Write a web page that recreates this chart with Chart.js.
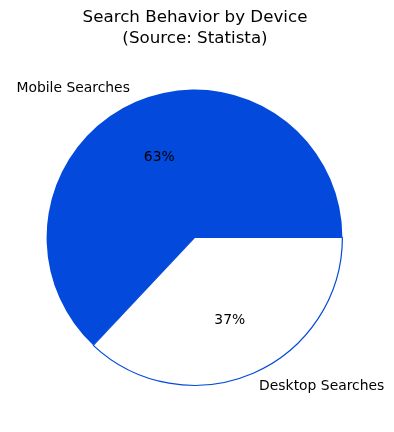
<!DOCTYPE html>
<html>
<head>
<meta charset="utf-8">
<script src="https://cdn.jsdelivr.net/npm/chart.js@4"></script>
<style>
  html, body { margin: 0; padding: 0; background: #ffffff; }
  #wrap { width: 394px; height: 432px; }
</style>
</head>
<body>
<div id="wrap"><canvas id="pieChart" width="394" height="432"></canvas></div>
<script>
// chart data
const labels = ["Mobile Searches", "Desktop Searches"];
const shares = [63, 37];
const titleLines = ["Search Behavior by Device", "(Source: Statista)"];

const blue = "#0349db";
const font = "'DejaVu Sans', sans-serif";

// matplotlib-style labels: name outside, percent inside
const pieLabels = {
  id: "pieLabels",
  afterDraw(chart) {
    const ctx = chart.ctx;
    ctx.save();
    ctx.fillStyle = "#000000";
    ctx.textAlign = "center";
    ctx.textBaseline = "middle";
    ctx.font = "16.7px " + font;
    ctx.fillText(titleLines[0], 195, 18);
    ctx.fillText(titleLines[1], 195, 39);

    const total = shares.reduce((a, b) => a + b, 0);
    chart.getDatasetMeta(0).data.forEach((arc, i) => {
      const mid = (arc.startAngle + arc.endAngle) / 2;
      const r = arc.outerRadius;
      const cos = Math.cos(mid), sin = Math.sin(mid);
      ctx.font = "13.9px " + font;
      ctx.textAlign = cos < 0 ? "right" : "left";
      ctx.fillText(labels[i], arc.x + cos * r * 1.1, arc.y + sin * r * 1.1);
      ctx.textAlign = "center";
      const pct = Math.round((shares[i] / total) * 100) + "%";
      ctx.fillText(pct, arc.x + cos * r * 0.6, arc.y + sin * r * 0.6 + 1);
    });
    ctx.restore();
  },
};

new Chart(document.getElementById("pieChart"), {
  type: "pie",
  data: {
    labels: labels,
    datasets: [
      {
        data: shares,
        backgroundColor: [blue, "#ffffff"],
        borderColor: [blue, blue],
        borderWidth: [0, 1.2],
      },
    ],
  },
  options: {
    responsive: false,
    animation: false,
    rotation: 223.2,
    layout: { padding: { left: 46, right: 51, top: 89, bottom: 46 } },
    plugins: {
      legend: { display: false },
      tooltip: { enabled: false },
      title: { display: false },
    },
  },
  plugins: [pieLabels],
});
</script>
</body>
</html>
